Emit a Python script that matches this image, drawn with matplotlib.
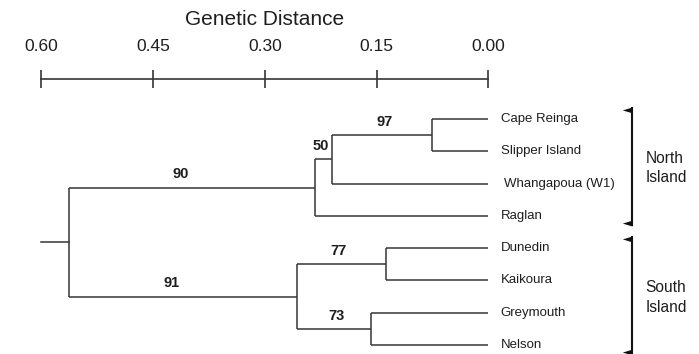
import numpy as np
import matplotlib
matplotlib.use('Agg')
import matplotlib.pyplot as plt

plt.rcParams['font.family'] = ['Liberation Sans', 'DejaVu Sans']

# leaves, top to bottom
leaves = ['Cape Reinga', 'Slipper Island', 'Whangapoua (W1)', 'Raglan',
          'Dunedin', 'Kaikoura', 'Greymouth', 'Nelson']

# internal nodes: name, genetic distance, children, bootstrap support
clade_names = ['CS', 'CSW', 'North', 'DK', 'GN', 'South', 'root']
clade_heights = [0.076, 0.210, 0.233, 0.137, 0.157, 0.257, 0.563]
clade_children = [['Cape Reinga', 'Slipper Island'],
                  ['CS', 'Whangapoua (W1)'],
                  ['CSW', 'Raglan'],
                  ['Dunedin', 'Kaikoura'],
                  ['Greymouth', 'Nelson'],
                  ['DK', 'GN'],
                  ['North', 'South']]
clade_support = [97, 50, 90, 77, 73, 91, None]
root_length = 0.60

groups = ['North\nIsland', 'South\nIsland']
group_members = [leaves[:4], leaves[4:]]

scale_ticks = [0.60, 0.45, 0.30, 0.15, 0.00]

line_col = '#363636'
text_col = '#1e1e1e'

W, H = 699, 354
fig = plt.figure(figsize=(W / 100, H / 100), dpi=100)

x0, x1 = 41.3, 488.3          # pixel span of 0.60 .. 0.00
y_top, y_bot = 119.0, 345.0   # pixel rows of first and last leaf
ax = fig.add_axes([x0 / W, 1 - y_bot / H, (x1 - x0) / W, (y_bot - y_top) / H])
ax.set_xlim(0.6, 0.0)
ax.set_ylim(len(leaves) - 1, 0)
ax.axis('off')

# node coordinates
pos = {name: (0.0, float(i)) for i, name in enumerate(leaves)}
for name, h, kids in zip(clade_names, clade_heights, clade_children):
    ys = [pos[k][1] for k in kids]
    pos[name] = (h, np.mean(ys))

parent = {}
for name, kids in zip(clade_names, clade_children):
    for k in kids:
        parent[k] = name

lw = 1.1
for name, h, kids in zip(clade_names, clade_heights, clade_children):
    ys = [pos[k][1] for k in kids]
    ax.plot([h, h], [min(ys), max(ys)], color=line_col, lw=lw,
            solid_capstyle='butt', clip_on=False)
    for k in kids:
        ax.plot([h, pos[k][0]], [pos[k][1], pos[k][1]], color=line_col, lw=lw,
                solid_capstyle='butt', clip_on=False)

# stub to the left of the root
rx, ry = pos['root']
ax.plot([root_length, rx], [ry, ry], color=line_col, lw=lw, clip_on=False)

# bootstrap values above the branch leading to each clade
nudge = {'CS': 3, 'CSW': -3, 'North': -11, 'DK': -3, 'GN': 2, 'South': -11}
for name, sup in zip(clade_names, clade_support):
    if sup is None:
        continue
    h, y = pos[name]
    mid = (h + pos[parent[name]][0]) / 2
    ax.annotate(str(sup), (mid, y), xytext=(nudge[name] * 0.72, 9.5),
                textcoords='offset points', ha='center', va='center',
                fontsize=10.5, fontweight='bold', color=text_col,
                annotation_clip=False)

for i, name in enumerate(leaves):
    shift = 11 if name.startswith('Whangapoua') else 9
    ax.annotate(name, (0.0, i), xytext=(shift, 0), textcoords='offset points',
                ha='left', va='center', fontsize=9.5, color=text_col,
                annotation_clip=False)

# island brackets
bx = -(631.5 - x1) / (x1 - x0) * 0.6
for label, members in zip(groups, group_members):
    i0 = leaves.index(members[0]) - 0.37
    i1 = leaves.index(members[-1]) + 0.30
    ax.plot([bx, bx], [i0, i1], color='#111111', lw=1.5, clip_on=False,
            solid_capstyle='butt')
    ax.plot([bx], [i0], marker=[(0, 0), (-1, -0.3), (0, -0.6), (0, 0)],
            ms=14, color='#111111', mew=0, clip_on=False)
    ax.plot([bx], [i1], marker=[(0, 0), (-1, 0.3), (0, 0.6), (0, 0)],
            ms=14, color='#111111', mew=0, clip_on=False)
    ax.annotate(label, (bx, (i0 + i1) / 2), xytext=(10, -1.5),
                textcoords='offset points', ha='left', va='center',
                fontsize=11.2, color=text_col, linespacing=1.35,
                annotation_clip=False)

# distance scale bar
sax = fig.add_axes([x0 / W, 1 - 79.3 / H, (x1 - x0) / W, 0.0001])
sax.set_xlim(0.6, 0.0)
for s in ['bottom', 'left', 'right']:
    sax.spines[s].set_visible(False)
sax.spines['top'].set_linewidth(1.2)
sax.spines['top'].set_color(line_col)
sax.set_yticks([])
sax.xaxis.tick_top()
sax.xaxis.set_label_position('top')
sax.set_xticks(scale_ticks)
sax.set_xticklabels(['%.2f' % t for t in scale_ticks])
sax.tick_params(axis='x', direction='inout', length=13, width=1.2,
                color=line_col, labelsize=12.5, labelcolor=text_col, pad=11.5)
sax.set_xlabel('Genetic Distance', fontsize=15, color=text_col, labelpad=10)

fig.savefig('out.png', dpi=100)
